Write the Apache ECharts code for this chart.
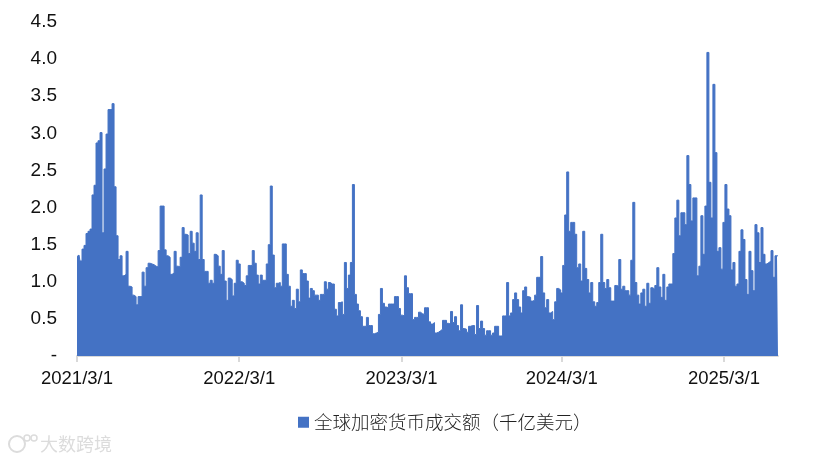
<!DOCTYPE html>
<html>
<head>
<meta charset="utf-8">
<style>html,body{margin:0;padding:0;background:#fff}#c{width:838px;height:461px}</style>
<script src="https://cdn.jsdelivr.net/npm/echarts@6/dist/echarts.min.js"></script>
</head>
<body>
<div id="c"></div>
<script>
const seriesName = '全球加密货币成交额（千亿美元）';
const watermark = '大数跨境';
const tickLabels = ['2021/3/1','2022/3/1','2023/3/1','2024/3/1','2025/3/1'];
const tickIndexes = [0,81,162,242,323];
const part1 = [1.34,1.36,1.28,1.44,1.49,1.65,1.68,1.71,2.17,2.30,2.87,2.90,3.01,1.66,2.52,2.99,3.32,3.32,3.40,2.28,1.62,1.30,1.35,1.08,1.10,1.41,0.94,0.93,0.82,0.80,0.69,0.80,0.80,1.13,0.94,1.19,1.25,1.24,1.23,1.21,1.20,1.42,2.02,2.02];
const part2 = [1.43,1.35,1.33,1.10,1.12,1.41,1.21,1.20,1.33,1.73,1.64,1.63,1.38,1.68,1.52,1.41,1.66,1.30,2.17,1.30,1.14,1.14,0.98,1.02,0.98,1.37,1.35,1.21,1.10,1.42,1.01,0.75,1.05,1.03,0.81,0.98,1.29,1.24,1.00,0.98,0.95,1.08,1.22,1.22];
const part3 = [1.42,1.25,1.09,0.97,1.09,1.02,1.02,1.24,1.50,2.29,1.36,0.92,0.98,0.99,0.94,1.51,1.51,1.10,0.94,0.67,0.75,0.64,0.90,0.73,1.16,1.11,1.11,1.01,0.78,0.91,0.88,0.82,0.82,0.75,0.83,0.83,1.00,0.90,0.99,0.97,0.97,0.63,0.54,0.72];
const part4 = [0.73,0.56,1.26,0.91,1.09,1.26,2.31,0.83,0.70,0.61,0.53,0.40,0.40,0.52,0.41,0.41,0.30,0.31,0.32,0.56,0.91,0.71,0.66,0.65,0.70,0.70,0.70,0.80,0.80,0.64,0.55,0.54,1.08,0.92,0.84,0.84,0.49,0.52,0.52,0.59,0.57,0.56,0.65,0.65];
const part5 = [0.46,0.43,0.45,0.31,0.32,0.34,0.36,0.48,0.48,0.44,0.43,0.60,0.45,0.53,0.41,0.34,0.69,0.37,0.36,0.32,0.40,0.41,0.41,0.29,0.68,0.37,0.47,0.37,0.28,0.34,0.34,0.28,0.31,0.40,0.40,0.27,0.27,0.54,0.54,0.99,0.54,0.58,0.76,0.85];
const part6 = [0.76,0.66,0.58,0.88,0.93,0.80,0.79,0.74,0.75,0.82,1.06,1.06,1.34,0.85,0.65,0.76,0.58,0.60,0.49,0.73,0.91,0.89,0.85,1.22,1.90,2.48,1.68,1.80,1.80,1.64,1.19,1.24,1.01,1.68,1.18,1.03,0.85,0.99,0.73,0.67,0.72,0.99,1.64,0.99];
const part7 = [0.91,1.03,0.92,0.74,0.74,0.95,0.94,1.30,0.90,0.94,0.88,0.88,0.82,1.29,2.07,0.99,0.82,0.70,0.85,0.90,0.67,0.98,0.71,0.92,0.90,0.95,1.19,0.93,0.79,1.10,0.75,0.93,0.97,0.97,1.38,1.86,2.10,1.62,1.93,1.93,1.77,2.70,2.31,1.82];
const part8 = [2.13,2.13,1.08,1.21,1.89,1.37,2.02,4.09,2.34,1.86,3.66,2.74,1.41,1.46,1.17,1.80,2.31,1.98,1.89,1.16,1.26,0.94,0.97,1.41,1.70,1.57,1.03,0.83,1.41,1.15,0.88,1.77,1.66,1.26,1.73,1.37,1.24,1.26,1.28,1.42,1.06,1.35,1.35];
const values = [].concat(part1,part2,part3,part4,part5,part6,part7,part8);
const categories = values.map((v,i)=> tickIndexes.includes(i) ? tickLabels[tickIndexes.indexOf(i)] : 'p'+i);
const isTick = (i)=> tickIndexes.includes(i);

const chart = echarts.init(document.getElementById('c'), null, {renderer:'canvas'});
chart.setOption({
  animation:false,
  backgroundColor:'#fff',
  grid:{left:77,right:60,top:22,bottom:105,containLabel:false},
  legend:{
    left:293,top:408,itemWidth:11,itemHeight:11,
    icon:'rect',
    textStyle:{fontFamily:'"Noto Sans CJK SC"',fontSize:18.5,fontWeight:300,color:'#222'},
    data:[{name:seriesName,itemStyle:{color:'#4472C4',borderWidth:0},lineStyle:{opacity:0}}]
  },
  xAxis:{
    type:'category',data:categories,boundaryGap:false,
    axisLine:{lineStyle:{color:'#d9d9d9',width:2}},
    axisTick:{show:true,length:6,interval:isTick,lineStyle:{color:'#d9d9d9',width:2}},
    axisLabel:{interval:isTick,color:'#111',fontFamily:'"Liberation Sans"',fontSize:18.5,margin:13,hideOverlap:false,showMinLabel:true}
  },
  yAxis:{
    type:'value',min:0,max:4.5,interval:0.5,
    splitLine:{show:false},axisLine:{show:false},axisTick:{show:false},
    axisLabel:{color:'#111',fontFamily:'"Liberation Sans"',fontSize:19,margin:20,
      formatter:(v)=> v===0 ? '-' : v.toFixed(1)}
  },
  series:[{
    name:seriesName,type:'line',data:values,step:'middle',symbol:'none',
    lineStyle:{color:'#4472C4',width:1,join:'round'},
    itemStyle:{color:'#4472C4'},
    areaStyle:{color:'#4472C4',opacity:1}
  }],
  graphic:[
    {type:'text',left:40,top:435,style:{text:watermark,fontFamily:'"Noto Sans CJK SC"',fontSize:18,fill:'#dcdcdc'}},
    {type:'circle',shape:{cx:17,cy:444,r:8},style:{fill:'none',stroke:'#dcdcdc',lineWidth:2}},
    {type:'circle',shape:{cx:27,cy:438,r:3},style:{fill:'none',stroke:'#dcdcdc',lineWidth:1.5}},
    {type:'circle',shape:{cx:34,cy:438,r:3},style:{fill:'none',stroke:'#dcdcdc',lineWidth:1.5}}
  ]
});
</script>
</body>
</html>
